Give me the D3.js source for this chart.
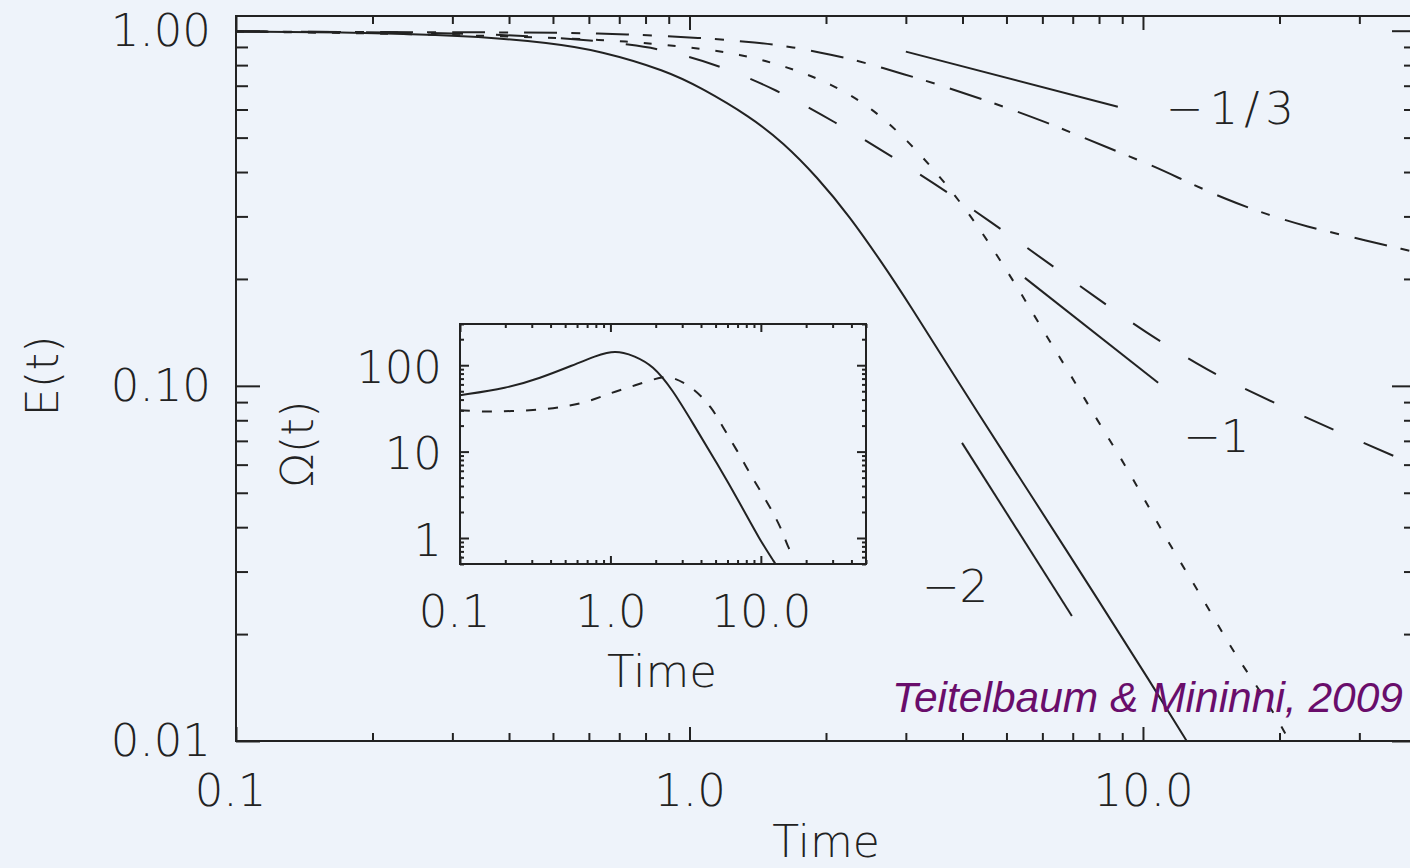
<!DOCTYPE html>
<html>
<head>
<meta charset="utf-8">
<script src="https://cdn.jsdelivr.net/npm/d3@7"></script>
<style>
  html, body { margin: 0; padding: 0; background: #eef3fa; }
  svg { display: block; }
</style>
</head>
<body>
<svg id="chart" width="1410" height="868"></svg>
<script>
// ---- Energy decay E(t), four runs ----
const timeSolid   = [0.1, 0.23, 0.345, 0.49, 0.635, 0.89, 1.06, 1.36, 1.61, 1.91, 2.26, 2.67, 2.96, 4.42, 5.72, 8.04, 10.3, 13.0];
const energySolid = [0.995, 0.985, 0.962, 0.925, 0.878, 0.771, 0.691, 0.573, 0.484, 0.388, 0.299, 0.220, 0.181, 0.0802, 0.0483, 0.0245, 0.0149, 0.0092];

const timeLongDash   = [0.1, 0.23, 0.345, 0.52, 0.76, 0.89, 1.14, 1.56, 2.09, 2.80, 3.70, 4.89, 6.43, 7.84, 10.16, 13.36, 15.7, 22.2, 29.5, 40.2];
const energyLongDash = [0.995, 0.99, 0.98, 0.956, 0.913, 0.878, 0.807, 0.682, 0.554, 0.442, 0.352, 0.275, 0.214, 0.178, 0.141, 0.114, 0.102, 0.0828, 0.0705, 0.0595];

const timeDotted   = [0.1, 0.23, 0.345, 0.49, 0.635, 0.79, 1.01, 1.29, 1.64, 2.06, 2.54, 3.03, 3.57, 4.16, 4.76, 5.41, 6.14, 6.97, 7.92, 8.99, 10.1, 11.35, 12.9, 14.56, 16.1, 18.4, 20.8, 21.6];
const energyDotted = [0.995, 0.98, 0.968, 0.956, 0.943, 0.925, 0.896, 0.861, 0.792, 0.709, 0.603, 0.490, 0.388, 0.303, 0.234, 0.1805, 0.1374, 0.106, 0.0802, 0.0619, 0.0477, 0.0364, 0.0279, 0.0215, 0.0172, 0.0135, 0.0103, 0.0093];

const timeDashDot   = [0.1, 0.23, 0.345, 0.52, 0.72, 1.06, 1.42, 1.68, 2.06, 2.44, 2.99, 3.50, 4.31, 5.01, 6.14, 7.15, 8.81, 10.63, 12.25, 15.3, 18.9, 23.0, 28.6, 38.8, 40.2];
const energyDashDot = [0.995, 0.99, 0.99, 0.987, 0.978, 0.956, 0.925, 0.901, 0.856, 0.813, 0.752, 0.709, 0.648, 0.607, 0.551, 0.509, 0.456, 0.414, 0.380, 0.334, 0.303, 0.2805, 0.263, 0.240, 0.237];

// ---- Power-law reference segments ----
const refLabels = ["\u22121/3", "\u22121", "\u22122"];
const refStartT = [3.0, 5.49, 3.99];
const refStartE = [0.873, 0.2014, 0.0691];
const refEndT   = [8.8, 10.8, 6.97];
const refEndE   = [0.611, 0.102, 0.0225];

// ---- Inset: Omega(t), two runs ----
const insetTimeSolid  = [0.1, 0.205, 0.34, 0.563, 0.813, 0.95, 1.07, 1.22, 1.41, 1.92, 2.60, 3.53, 5.10, 7.25, 9.85, 12.4, 13.3];
const insetOmegaSolid = [45, 54.2, 70.8, 100, 130, 139, 143, 140, 130, 100, 51.4, 21.3, 7.36, 2.54, 0.948, 0.514, 0.42];

const insetTimeDashed  = [0.1, 0.151, 0.325, 0.483, 0.698, 0.993, 1.35, 1.92, 2.3, 2.60, 3.53, 4.72, 5.59, 6.93, 8.20, 9.85, 11.8, 13.8, 15.1, 16.6];
const insetOmegaDashed = [30.2, 28.6, 30.2, 32.7, 37.3, 47.4, 55.7, 68.9, 73.5, 72.6, 55.7, 32.7, 19.2, 10.4, 6.11, 3.59, 2.11, 1.24, 0.787, 0.6];

// ---- Axis ticks and labels ----
const mainXTicks = [0.1, 1, 10];
const mainXLabels = ["0.1", "1.0", "10.0"];
const mainYTicks = [0.01, 0.1, 1];
const mainYLabels = ["0.01", "0.10", "1.00"];
const insetXTicks = [0.1, 1, 10];
const insetXLabels = ["0.1", "1.0", "10.0"];
const insetYTicks = [1, 10, 100];
const insetYLabels = ["1", "10", "100"];

const citation = "Teitelbaum & Mininni, 2009";

// ---------------------------------------------------------------
const INK = "#222";
const BG = "#eef3fa";
const FONT = "'DejaVu Sans', sans-serif";
const FONT_WEIGHT = 200;

const svg = d3.select("#chart");
svg.append("rect").attr("width", 1410).attr("height", 868).attr("fill", BG);

function minorTicks(scale, majors) {
  return scale.ticks().filter(v => !majors.some(m => Math.abs(Math.log10(v) - Math.log10(m)) < 1e-6));
}

function styleAxis(g, fontSize) {
  g.select(".domain").remove();
  g.selectAll(".tick line").attr("stroke", INK).attr("stroke-width", 2);
  g.selectAll(".tick text")
    .attr("fill", INK)
    .attr("font-family", FONT)
    .attr("font-weight", FONT_WEIGHT)
    .attr("font-size", fontSize);
  g.attr("font-family", null).attr("font-size", null);
}

// Boxed log-log frame with inward ticks on all four sides
function drawFrame(root, x, y, opt) {
  const [x0, x1] = x.range();
  const [y0, y1] = y.range(); // y0 = bottom, y1 = top
  const xMinor = minorTicks(x, opt.xTicks);
  const yMinor = minorTicks(y, opt.yTicks);

  // bottom
  root.append("g").attr("transform", `translate(0,${y0})`)
    .call(d3.axisBottom(x).tickValues(opt.xTicks).tickFormat((d, i) => opt.xLabels[i])
      .tickSize(-opt.xMajor).tickPadding(opt.xPad))
    .call(g => styleAxis(g, opt.fontSize))
    // labels that begin with "0." sit slightly left of their tick
    .call(g => g.selectAll(".tick text").attr("dx", (d, i) => opt.xLabels[i].startsWith("0.") ? -6 : 0));
  root.append("g").attr("transform", `translate(0,${y0})`)
    .call(d3.axisBottom(x).tickValues(xMinor).tickFormat("").tickSize(-opt.xMinorLen))
    .call(g => styleAxis(g, opt.fontSize));
  // top
  root.append("g").attr("transform", `translate(0,${y1})`)
    .call(d3.axisTop(x).tickValues(opt.xTicks).tickFormat("").tickSize(-opt.xMajor))
    .call(g => styleAxis(g, opt.fontSize));
  root.append("g").attr("transform", `translate(0,${y1})`)
    .call(d3.axisTop(x).tickValues(xMinor).tickFormat("").tickSize(-opt.xMinorLen))
    .call(g => styleAxis(g, opt.fontSize));
  // left
  root.append("g").attr("transform", `translate(${x0},0)`)
    .call(d3.axisLeft(y).tickValues(opt.yTicks).tickFormat((d, i) => opt.yLabels[i])
      .tickSize(-opt.yMajor).tickPadding(opt.yPad))
    .call(g => styleAxis(g, opt.fontSize))
    .call(g => g.selectAll(".tick text").attr("dy", opt.yDy));
  root.append("g").attr("transform", `translate(${x0},0)`)
    .call(d3.axisLeft(y).tickValues(yMinor).tickFormat("").tickSize(-opt.yMinorLen))
    .call(g => styleAxis(g, opt.fontSize));
  // right
  root.append("g").attr("transform", `translate(${x1},0)`)
    .call(d3.axisRight(y).tickValues(opt.yTicks).tickFormat("").tickSize(-opt.yMajor))
    .call(g => styleAxis(g, opt.fontSize));
  root.append("g").attr("transform", `translate(${x1},0)`)
    .call(d3.axisRight(y).tickValues(yMinor).tickFormat("").tickSize(-opt.yMinorLen))
    .call(g => styleAxis(g, opt.fontSize));

  root.append("rect")
    .attr("x", x0).attr("y", y1).attr("width", x1 - x0).attr("height", y0 - y1)
    .attr("fill", "none").attr("stroke", INK).attr("stroke-width", 2);
}

function drawCurve(root, x, y, ts, vs, dash, clipId) {
  const line = d3.line().x((d, i) => x(ts[i])).y(d => y(d)).curve(d3.curveBasis);
  root.append("path")
    .datum(vs)
    .attr("d", line)
    .attr("fill", "none")
    .attr("stroke", INK)
    .attr("stroke-width", 2)
    .attr("stroke-dasharray", dash)
    .attr("clip-path", `url(#${clipId})`);
}

// ---------------- Main panel ----------------
const x = d3.scaleLog().domain([0.1, 40]).range([236, 1416]);
const y = d3.scaleLog().domain([0.01, 1.1]).range([741, 16]);

const defs = svg.append("defs");
defs.append("clipPath").attr("id", "clipMain")
  .append("rect").attr("x", 236).attr("y", 16).attr("width", 1180).attr("height", 725);

const main = svg.append("g");

drawCurve(main, x, y, timeSolid, energySolid, null, "clipMain");
drawCurve(main, x, y, timeLongDash, energyLongDash, "32,33", "clipMain");
drawCurve(main, x, y, timeDotted, energyDotted, "8,16", "clipMain");
drawCurve(main, x, y, timeDashDot, energyDashDot, "33,14,9,16", "clipMain");

// reference slopes
main.selectAll("line.ref")
  .data(refLabels)
  .join("line")
  .attr("class", "ref")
  .attr("x1", (d, i) => x(refStartT[i])).attr("y1", (d, i) => y(refStartE[i]))
  .attr("x2", (d, i) => x(refEndT[i])).attr("y2", (d, i) => y(refEndE[i]))
  .attr("stroke", INK).attr("stroke-width", 2);

// slope labels, placed next to their segments
const refLabelOffset = [[48, 17], [25, 69], [-150, -14]];
const refLabelSpacing = [6, 0, 0];
main.selectAll("text.ref")
  .data(refLabels)
  .join("text")
  .attr("class", "ref")
  .attr("x", (d, i) => x(refEndT[i]) + refLabelOffset[i][0])
  .attr("y", (d, i) => y(refEndE[i]) + refLabelOffset[i][1])
  .attr("letter-spacing", (d, i) => refLabelSpacing[i])
  .attr("font-family", FONT).attr("font-weight", FONT_WEIGHT)
  .attr("font-size", 45).attr("fill", INK)
  .text(d => d);

drawFrame(main, x, y, {
  xTicks: mainXTicks, xLabels: mainXLabels, yTicks: mainYTicks, yLabels: mainYLabels,
  xMajor: 14, xMinorLen: 8, yMajor: 24, yMinorLen: 12,
  xPad: 33, yPad: 25, yDy: "0.32em", fontSize: 45
});

// axis titles
svg.append("text")
  .attr("x", 826).attr("y", 857)
  .attr("text-anchor", "middle")
  .attr("font-family", FONT).attr("font-weight", FONT_WEIGHT)
  .attr("font-size", 44).attr("fill", INK)
  .text("Time");
svg.append("text")
  .attr("transform", "translate(58,376) rotate(-90)")
  .attr("text-anchor", "middle")
  .attr("font-family", FONT).attr("font-weight", FONT_WEIGHT)
  .attr("font-size", 45).attr("fill", INK)
  .text("E(t)");

// citation
svg.append("text")
  .attr("x", 1403).attr("y", 712)
  .attr("text-anchor", "end")
  .attr("font-family", "'Liberation Sans', Arial, sans-serif")
  .attr("font-style", "italic")
  .attr("font-size", 42.5)
  .attr("fill", "#690d6b")
  .text(citation);

// ---------------- Inset panel ----------------
const xi = d3.scaleLog().domain([0.1, 50]).range([460, 866]);
const yi = d3.scaleLog().domain([0.5, 300]).range([564, 324]);

defs.append("clipPath").attr("id", "clipInset")
  .append("rect").attr("x", 460).attr("y", 324).attr("width", 406).attr("height", 240);

const inset = svg.append("g");
inset.append("rect").attr("x", 460).attr("y", 324).attr("width", 406).attr("height", 240).attr("fill", BG);

drawCurve(inset, xi, yi, insetTimeSolid, insetOmegaSolid, null, "clipInset");
drawCurve(inset, xi, yi, insetTimeDashed, insetOmegaDashed, "10,12", "clipInset");

drawFrame(inset, xi, yi, {
  xTicks: insetXTicks, xLabels: insetXLabels, yTicks: insetYTicks, yLabels: insetYLabels,
  xMajor: 8, xMinorLen: 4, yMajor: 9, yMinorLen: 4,
  xPad: 31, yPad: 18, yDy: "0.38em", fontSize: 45
});

svg.append("text")
  .attr("x", 662).attr("y", 687)
  .attr("text-anchor", "middle")
  .attr("font-family", FONT).attr("font-weight", FONT_WEIGHT)
  .attr("font-size", 45).attr("fill", INK)
  .text("Time");
svg.append("text")
  .attr("transform", "translate(313,444) rotate(-90)")
  .attr("text-anchor", "middle")
  .attr("font-family", FONT).attr("font-weight", FONT_WEIGHT)
  .attr("font-size", 45).attr("fill", INK)
  .text("\u03A9(t)");
</script>
</body>
</html>
